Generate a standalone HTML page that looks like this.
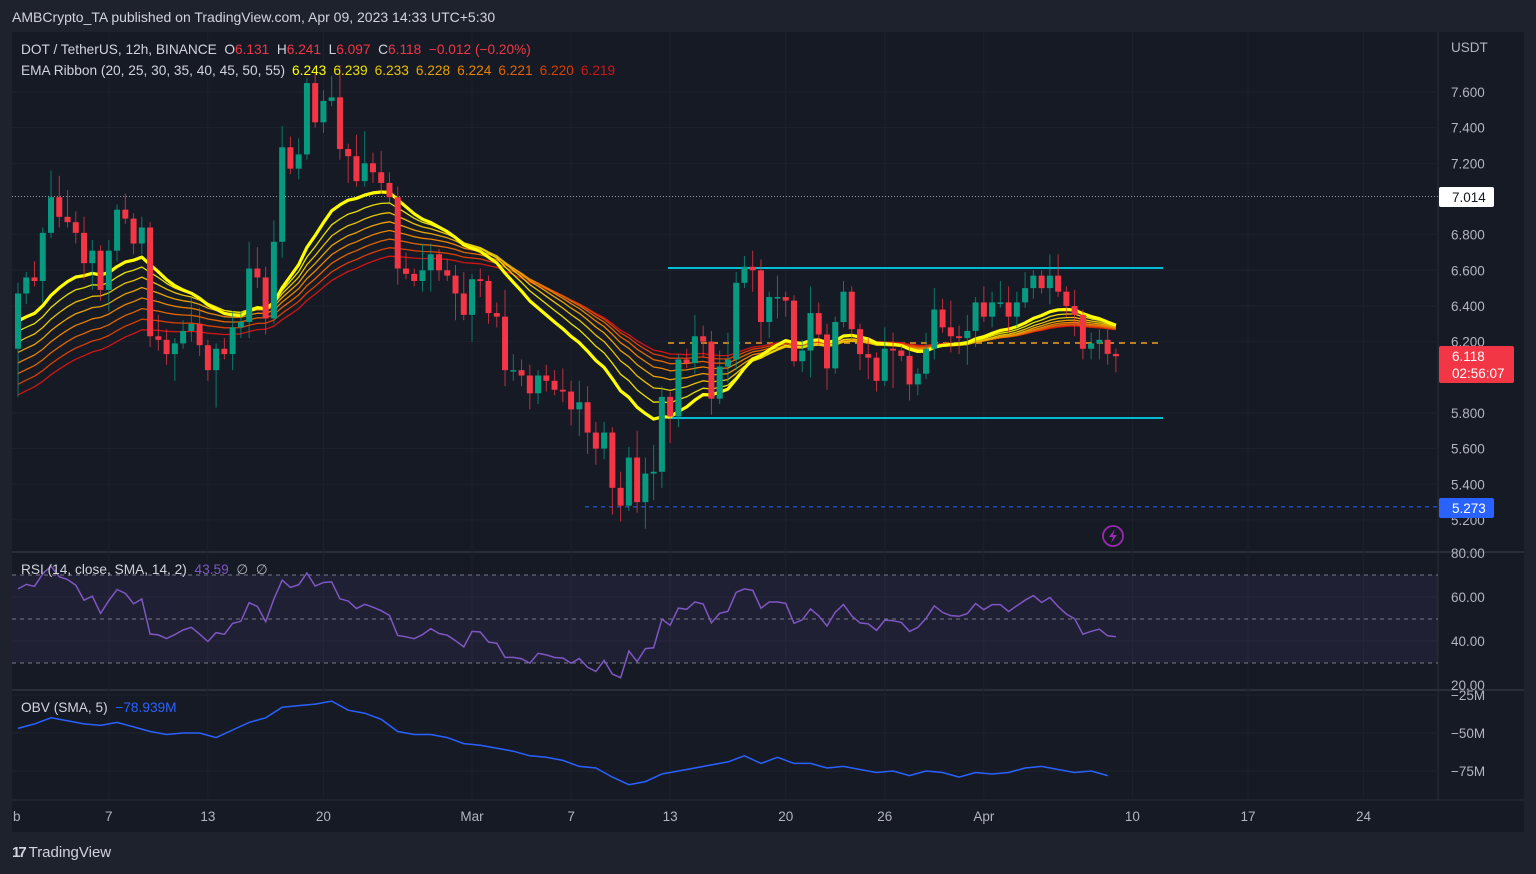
<!DOCTYPE html>
<html><head><meta charset="utf-8">
<style>
html,body{margin:0;padding:0;background:#1e222d;width:1536px;height:874px;overflow:hidden;font-family:"Liberation Sans",sans-serif}
#wrap{position:relative;width:1536px;height:874px}
svg text{font-family:"Liberation Sans",sans-serif}
.sp{margin-left:7px}
</style></head><body>
<div id="wrap">
<svg id="c" width="1536" height="874" xmlns="http://www.w3.org/2000/svg"></svg>
</div>
<script>
// ---------- DATA ----------
const closes=[6.47,6.56,6.54,6.81,7.01,6.90,6.87,6.81,6.64,6.71,6.49,6.71,6.94,6.89,6.75,6.84,6.23,6.21,6.13,6.19,6.26,6.30,6.18,6.04,6.16,6.13,6.28,6.31,6.61,6.56,6.33,6.76,7.29,7.17,7.25,7.65,7.43,7.55,7.57,7.28,7.24,7.10,7.20,7.15,7.09,7.01,
6.61,6.58,6.54,6.60,6.69,6.60,6.57,6.47,6.35,6.55,6.54,6.36,6.34,6.04,6.04,6.01,5.91,6.01,5.98,5.93,5.92,5.82,5.86,5.69,5.60,5.69,5.38,5.28,5.55,5.30,5.46,5.47,5.89,
5.78,6.10,6.08,6.23,6.20,5.88,6.06,6.10,6.53,6.62,6.60,6.31,6.45,6.45,6.43,6.09,6.15,6.36,6.24,6.05,6.31,6.48,6.27,6.13,6.11,5.98,6.16,6.15,6.12,5.96,6.02,6.16,6.38,6.28,6.23,6.22,6.26,6.42,6.34,6.42,6.42,6.34,6.42,6.50,6.57,6.50,6.57,6.48,6.40,6.35,6.16,6.19,6.21,6.131,6.118];
const firstOpen=6.16;
const upperWick="2131545232121312142125311232542442312246146242231521224121253221224243221325352112422352232141125221211314312134252313243231144131222144";
const lowerWick="9214121235242122222512227132323131211212511221311242151532232232212354325312553521233132144343125241123421713212133531213212131242232322";
const obv=[-47,-44,-40,-42,-44,-45,-43,-46,-49,-51,-50,-50,-53,-48,-43,-40,-33,-32,-31,-29,-35,-37,-41,-49,-51,-51,-53,-57,-58,-60,-62,-65,-66,-68,-72,-73,-79,-84,-82,-77,-75,-73,-71,-69,-65,-70,-66,-70,-70,-73,-72,-74,-76,-75,-78,-75,-76,-79,-76,-77,-76,-73,-72,-74,-76,-75,-78];
const emaPeriods=[20,25,30,35,40,45,50,55];
const emaSeeds=[6.30,6.24,6.18,6.12,6.06,6.00,5.94,5.88];
const priceTicks=[7.6,7.4,7.2,6.8,6.6,6.4,6.2,5.8,5.6,5.4,5.2];
const rsiTicks=[80,60,40,20];
const obvTicks=[-25,-50,-75];
const dateLabels=["b","7","13","20","Mar","7","13","20","26","Apr","10","17","24"];
const dateIdx=[-0.7,11,23,37,55,67,79,93,105,117,135,149,163];

// ---------- SCALES ----------
const NS="http://www.w3.org/2000/svg";
const svg=document.getElementById('c');
const X0=18, DX=8.255;
const xi=i=>X0+i*DX;
const py=p=>92+(7.6-p)*178.3;
const ry=v=>553+(80-v)*2.2;
const oy=v=>695+(-25-v)*1.52;
function el(tag,attrs,parent){const e=document.createElementNS(NS,tag);for(const k in attrs)e.setAttribute(k,attrs[k]);(parent||svg).appendChild(e);return e;}
function txt(x,y,s,attrs){const t=el('text',Object.assign({x:x,y:y},attrs||{}));t.textContent=s;return t;}

const bg=el('rect',{x:12,y:32,width:1512,height:800,fill:'#161a25'});


el('line',{x1:12,x2:1524,y1:552,y2:552,stroke:'#2a2e39','stroke-width':2});
el('line',{x1:12,x2:1524,y1:690,y2:690,stroke:'#2a2e39','stroke-width':2});
el('line',{x1:12,x2:1524,y1:800,y2:800,stroke:'#2a2e39','stroke-width':1});
el('line',{x1:1438,x2:1438,y1:32,y2:800,stroke:'#2a2e39','stroke-width':1});

dateLabels.forEach((d,k)=>{
  const x=xi(dateIdx[k]);
  if(x>14 && x<1438){
    el('line',{x1:x,x2:x,y1:32,y2:800,stroke:'#1d212c','stroke-width':1});
  }
  const t=txt(Math.max(x,13),821,d,{fill:'#b2b5be','font-size':13.5,'text-anchor':k==0?'start':'middle'});
  
  
});
priceTicks.forEach(p=>{
  const y=py(p);
  el('line',{x1:12,x2:1438,y1:y,y2:y,stroke:'#1d212c','stroke-width':1});
  const t=txt(1451,y+5,p.toFixed(3),{fill:'#b2b5be','font-size':13.5});
  
  
});
txt(1451,52,'USDT',{fill:'#b2b5be','font-size':13.5});
rsiTicks.forEach(v=>{
  const y=ry(v);
  if(v==60||v==40) el('line',{x1:12,x2:1438,y1:y,y2:y,stroke:'#1d212c'});
  const t=txt(1451,y+5,v.toFixed(2),{fill:'#b2b5be','font-size':13.5});
  
  
});
obvTicks.forEach(v=>{
  const y=oy(v);
  el('line',{x1:12,x2:1438,y1:y,y2:y,stroke:'#1d212c'});
  const t=txt(1451,y+5,'\u2212'+Math.abs(v)+'M',{fill:'#b2b5be','font-size':13.5});
  
  
});

el('line',{x1:12,x2:1438,y1:py(7.014),y2:py(7.014),stroke:'#9598a1','stroke-width':1,'stroke-dasharray':'1 2'});
el('line',{x1:585,x2:1438,y1:py(5.273),y2:py(5.273),stroke:'#2962ff','stroke-width':1,'stroke-dasharray':'4 4'});
const rt=el('line',{x1:668,x2:1163,y1:268,y2:268,stroke:'#00bcd4','stroke-width':2});


const rb=el('line',{x1:668,x2:1163,y1:418,y2:418,stroke:'#00bcd4','stroke-width':2});


el('line',{x1:668,x2:1163,y1:343,y2:343,stroke:'#f0a020','stroke-width':1.5,'stroke-dasharray':'6 5'});

const emaColors=['#ffff00','#e8e000','#e8c300','#e8a200','#e88300','#e06400','#d84000','#d01515'];
for(let k=emaPeriods.length-1;k>=0;k--){
  const a=2/(emaPeriods[k]+1);let e=emaSeeds[k];const pts=[];
  closes.forEach((c,i)=>{e=e+a*(c-e);pts.push(xi(i).toFixed(1)+','+py(e).toFixed(1));});
  const pl=el('polyline',{points:pts.join(' '),fill:'none',stroke:emaColors[k],'stroke-width':k==0?3.2:1.3,'stroke-linejoin':'round'});
  
  
}
closes.forEach((c,i)=>{
  const o=i==0?firstOpen:closes[i-1];
  const up=c>=o;
  const col=up?'#089981':'#f23645';
  const h=Math.max(o,c)+(+upperWick[i])*0.03;
  const l=Math.min(o,c)-(+lowerWick[i])*0.03;
  const x=xi(i);
  const g=el('g',{});
  
  
  el('line',{x1:x,x2:x,y1:py(h),y2:py(l),stroke:col,'stroke-width':1,opacity:0.75},g);
  const yt=py(Math.max(o,c)),yb=py(Math.min(o,c));
  el('rect',{x:x-3,y:yt,width:6,height:Math.max(1.5,yb-yt),fill:col},g);
});

el('rect',{x:12,y:ry(70),width:1426,height:ry(30)-ry(70),fill:'#7e57c2','fill-opacity':0.1});
[70,50,30].forEach(v=>el('line',{x1:12,x2:1438,y1:ry(v),y2:ry(v),stroke:'#787b86','stroke-width':1,'stroke-dasharray':'4 4'}));
{
  let ag=0.055,al=0.045;const pts=[];
  closes.forEach((c,i)=>{
    const o=i==0?firstOpen:closes[i-1];const d=c-o;
    ag=(ag*13+Math.max(d,0))/14;al=(al*13+Math.max(-d,0))/14;
    const r=100-100/(1+ag/al);
    pts.push(xi(i).toFixed(1)+','+ry(r).toFixed(1));
  });
  const pl=el('polyline',{points:pts.join(' '),fill:'none',stroke:'#7e57c2','stroke-width':1.5});
  
  
}
{
  const pts=obv.map((v,k)=>xi(k*2).toFixed(1)+','+oy(v).toFixed(1));
  const pl=el('polyline',{points:pts.join(' '),fill:'none',stroke:'#2962ff','stroke-width':1.5});
  
  
}

function box(y,h,fill,lines,color,name){
  const g=el('g',{});
  
  
  el('rect',{x:1439,y:y,width:h[0],height:h[1],fill:fill,rx:2},g);
  lines.forEach((s,k)=>{const t=el('text',{x:1452,y:y+15+k*17,fill:color,'font-size':13.5},g);t.textContent=s;});
}
box(187,[55,20],'#ffffff',['7.014'],'#131722','level-label-7014');
box(346,[75,37],'#f23645',['6.118','02:56:07'],'#ffffff','last-price-label');
box(498,[55,20],'#2962ff',['5.273'],'#ffffff','level-label-5273');

const ic=el('g',{});


el('circle',{cx:1113,cy:536,r:10,fill:'none',stroke:'#9c27b0','stroke-width':1.8},ic);
el('path',{d:'M1115 529 L1109 537 L1113 537 L1111 543 L1117 535 L1113 535 Z',fill:'#9c27b0'},ic);
</script>
<div style="position:absolute;left:12px;top:9px;color:#d1d4dc;font-size:14px">AMBCrypto_TA published on TradingView.com, Apr 09, 2023 14:33 UTC+5:30</div>
<div style="position:absolute;left:21px;top:42px;color:#d1d4dc;font-size:13.7px;white-space:nowrap">DOT / TetherUS, 12h, BINANCE&nbsp; O<span style="color:#f23645">6.131</span>&nbsp; H<span style="color:#f23645">6.241</span>&nbsp; L<span style="color:#f23645">6.097</span>&nbsp; C<span style="color:#f23645">6.118</span>&nbsp; <span style="color:#f23645">−0.012 (−0.20%)</span></div>
<div style="position:absolute;left:21px;top:63px;color:#d1d4dc;font-size:13.7px;white-space:nowrap">EMA Ribbon (20, 25, 30, 35, 40, 45, 50, 55)<span class="sp" style="color:#ffff00">6.243</span><span class="sp" style="color:#e8e000">6.239</span><span class="sp" style="color:#e8c300">6.233</span><span class="sp" style="color:#e8a200">6.228</span><span class="sp" style="color:#e88300">6.224</span><span class="sp" style="color:#e06400">6.221</span><span class="sp" style="color:#d84000">6.220</span><span class="sp" style="color:#d01515">6.219</span></div>
<div style="position:absolute;left:21px;top:562px;color:#d1d4dc;font-size:13.7px;white-space:nowrap">RSI (14, close, SMA, 14, 2)&nbsp; <span style="color:#7e57c2">43.59</span>&nbsp; <span style="color:#b2b5be">∅&nbsp; ∅</span></div>
<div style="position:absolute;left:21px;top:700px;color:#d1d4dc;font-size:13.7px;white-space:nowrap">OBV (SMA, 5)&nbsp; <span style="color:#2962ff">−78.939M</span></div>
<div style="position:absolute;left:12px;top:844px;color:#d1d4dc;font-size:15px;white-space:nowrap"><b style="letter-spacing:-2px">17</b> TradingView</div>
</body></html>
